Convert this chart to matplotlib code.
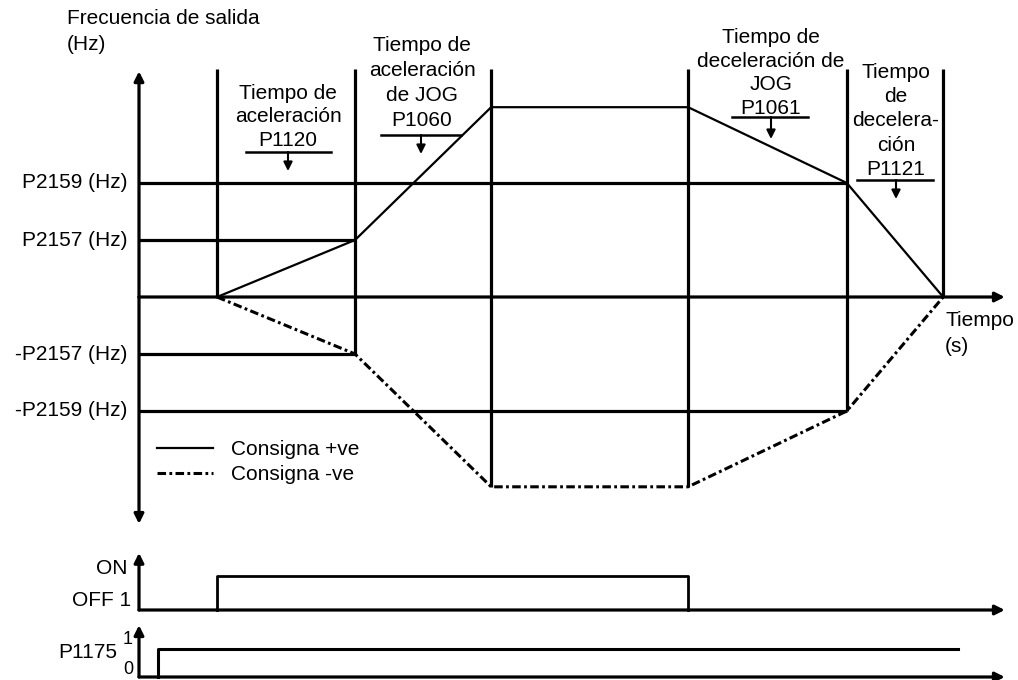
import matplotlib.pyplot as plt

plt.rcParams['font.family'] = ['Liberation Sans', 'DejaVu Sans']

# Data (arbitrary time units, frequency in units of P2157)
t_marks = [2.0, 5.54, 9.03, 14.08, 18.15, 20.62]
f_pos = [0, 1, 3.33, 3.33, 2, 0]
f_neg = [0, -1, -3.33, -3.33, -2, 0]
level_names = ["P2159 (Hz)", "P2157 (Hz)", "-P2157 (Hz)", "-P2159 (Hz)"]
level_vals = [2, 1, -1, -2]
level_ends = [18.15, 5.54, 5.54, 18.15]
on_time, off_time = 2.0, 14.08
p1175_on, p1175_end = 0.49, 21.0

W, H = 1018, 680
FS = 15
fig = plt.figure(figsize=(W / 100, H / 100), dpi=100)

# pixel origin of the diagram: x=139, y=297; 39 px per time unit, 57 px per freq unit
ax = fig.add_axes([0, 0, 1, 1])
ax.set_xlim(-139 / 39, (W - 139) / 39)
ax.set_ylim((297 - H) / 57, 297 / 57)
ax.axis('off')

ax_on = fig.add_axes([0, 0, 1, 1])
ax_on.set_xlim(ax.get_xlim())
ax_on.set_ylim((610 - H) / 34, 610 / 34)
ax_on.axis('off')
ax_on.patch.set_alpha(0)

ax_p = fig.add_axes([0, 0, 1, 1])
ax_p.set_xlim(ax.get_xlim())
ax_p.set_ylim((677 - H) / 28, 677 / 28)
ax_p.axis('off')
ax_p.patch.set_alpha(0)

lw_axis = 2.3
lw_curve = 1.6
arrow = dict(arrowstyle='-|>', lw=lw_axis, color='k', mutation_scale=14,
             shrinkA=0, shrinkB=0)


def axis_arrow(a, start, end):
    a.annotate("", xy=end, xytext=start, arrowprops=arrow)


# main axes
axis_arrow(ax, (0, 0), (22.2, 0))
axis_arrow(ax, (0, 0), (0, 3.96))
axis_arrow(ax, (0, 0), (0, -3.98))

# vertical guides down to the negative setpoint
ax.vlines(t_marks, f_neg, 4.0, color='k', lw=lw_axis)

# frequency levels
for name, val, end in zip(level_names, level_vals, level_ends):
    ax.plot([0, end], [val, val], color='k', lw=lw_axis, solid_capstyle='butt')
    ax.text(-0.3, val, name, ha='right', va='center', fontsize=FS)

ax.plot(t_marks, f_pos, color='k', lw=lw_curve, label="Consigna +ve")
ax.plot(t_marks, f_neg, color='k', lw=2.2, dashes=(2.8, 1.1, 0.9, 1.1),
        label="Consigna -ve")

ax.legend(loc='upper left', bbox_to_anchor=(157 / W, 1 - 440 / H),
          bbox_transform=fig.transFigure, frameon=False, fontsize=FS,
          handlelength=2.7, handletextpad=0.85, labelspacing=0.28,
          borderpad=0, borderaxespad=0)


def txt(x, y, s, **kw):
    kw.setdefault('fontsize', FS)
    fig.text(x / W, 1 - y / H, s, **kw)


def bracket(xc, y, x0, x1, length=19):
    ax.annotate("", xy=(xc / W, 1 - (y + length) / H), xytext=(xc / W, 1 - y / H),
                xycoords='figure fraction', textcoords='figure fraction',
                arrowprops=dict(arrowstyle='-|>', lw=1.5, color='k',
                                mutation_scale=13, shrinkA=0, shrinkB=0))
    ax.plot([x0 / W, x1 / W], [1 - y / H, 1 - y / H], color='k', lw=1.8,
            transform=fig.transFigure)


txt(67, 18, "Frecuencia de salida", va='center')
txt(67, 45, "(Hz)", va='center')

txt(288, 117, "Tiempo de\naceleración\nP1120", ha='center', va='center',
    linespacing=1.3)
bracket(288, 152, 246, 331)

txt(422, 83, "Tiempo de\naceleración\nde JOG\nP1060", ha='center', va='center',
    linespacing=1.38)
bracket(421, 135, 381, 461)

txt(771, 73, "Tiempo de\ndeceleración de\nJOG\nP1061", ha='center',
    va='center', linespacing=1.3)
bracket(771, 117, 732, 808, length=22)

txt(896, 121, "Tiempo\nde\ndecelera-\nción\nP1121", ha='center', va='center',
    linespacing=1.35)
bracket(896, 180, 857, 933)

txt(945, 321, "Tiempo", va='center')
txt(945, 347, "(s)", va='center')

# ON / OFF command
axis_arrow(ax_on, (0, 0), (22.2, 0))
axis_arrow(ax_on, (0, 0), (0, 1.68))
ax_on.plot([on_time, on_time, off_time, off_time], [0, 1, 1, 0], color='k',
           lw=lw_curve + 0.4)
txt(128, 569, "ON", ha='right', va='center')
txt(131, 600, "OFF 1", ha='right', va='center')

# P1175
axis_arrow(ax_p, (0, 0), (22.2, 0))
axis_arrow(ax_p, (0, 0), (0, 1.85))
ax_p.plot([p1175_on, p1175_on, p1175_end], [0, 1, 1], color='k', lw=lw_curve + 0.6)
txt(117, 653, "P1175", ha='right', va='center')
txt(128, 640, "1", ha='center', va='center', fontsize=13)
txt(128, 670, "0", ha='center', va='center', fontsize=13)

fig.savefig("out.png", dpi=100)
